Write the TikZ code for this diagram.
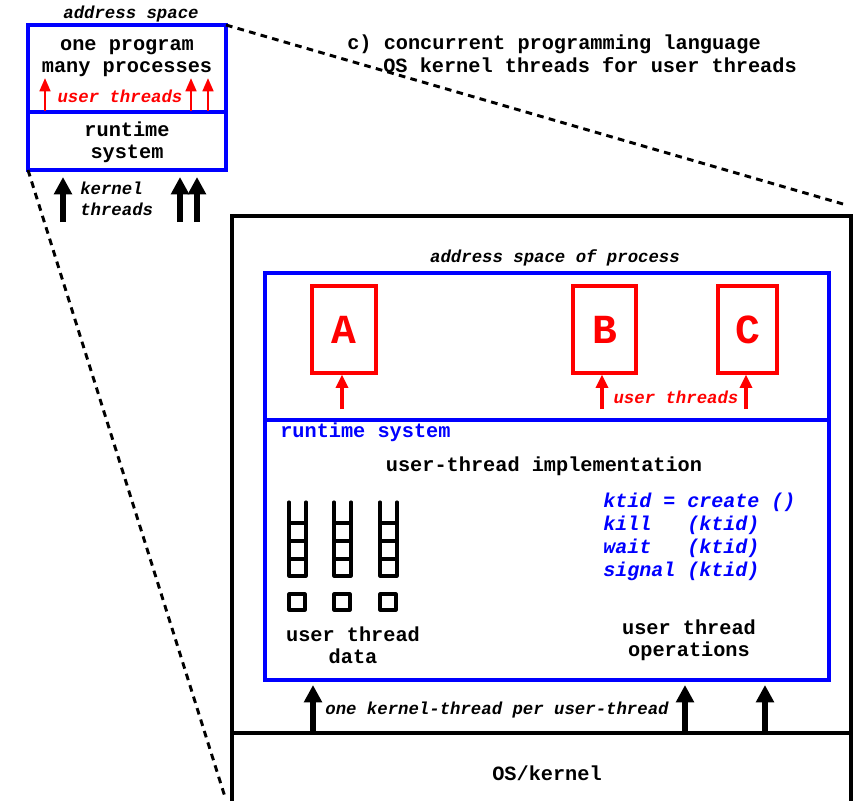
\documentclass[tikz,border=0pt]{standalone}
\usepackage{fontspec}
\setmainfont{Liberation Mono}
\usetikzlibrary{arrows.meta}
\begin{document}
\begin{tikzpicture}[x=0.75pt,y=-0.75pt,
  bigtxt/.style={font=\fontsize{15.2}{16.5}\selectfont\bfseries, inner sep=0pt},
  smalltxt/.style={font=\fontsize{13}{15.75}\selectfont\bfseries\itshape, inner sep=0pt},
  opstxt/.style={font=\fontsize{15}{17.25}\selectfont\bfseries\itshape, inner sep=0pt, text=blue, align=left},
  bluebox/.style={draw=blue, line width=2.5pt},
  blackbox/.style={draw=black, line width=2.4pt},
  redbox/.style={draw=red, line width=2.3pt, text=red, inner sep=0pt,
     font=\fontsize{31}{31}\selectfont\bfseries},
  redarrow/.style={red, line width=2.4pt, -{Triangle[width=9pt,length=10pt]}},
  redarrowsm/.style={red, line width=2pt, -{Triangle[width=8pt,length=10pt]}},
  karrow/.style={black, line width=4pt, -{Triangle[width=13pt,length=13pt]}},
  ladder/.style={line width=2.3pt, line join=round, line cap=round},
  zoomline/.style={line width=2.2pt, dash pattern=on 5pt off 4pt}
]
\useasboundingbox (0,0) rectangle (856,800);

% ---------- small overview box ----------
\node[smalltxt] (asp) at (131,14) {address space};
\draw[bluebox] (28,25) rectangle (226,170);
\draw[bluebox] (28,112) -- (226,112);
\coordinate (sTR) at (226,25);
\coordinate (sBL) at (28,170);
\node[bigtxt, align=center] (prog) at (127,58) {one program\\many processes};
\node[smalltxt, text=red] (sut) at (120,96) {user threads};
\node[bigtxt, align=center] (rts) at (127,142) {runtime\\system};
\coordinate (su1) at (45,111); \coordinate (su1e) at (45,78);
\coordinate (su2) at (191,111); \coordinate (su2e) at (191,78);
\coordinate (su3) at (208,111); \coordinate (su3e) at (208,78);
\draw[redarrowsm] (su1) -- (su1e);
\draw[redarrowsm] (su2) -- (su2e);
\draw[redarrowsm] (su3) -- (su3e);
\coordinate (sk1) at (63,222); \coordinate (sk1e) at (63,177);
\coordinate (sk2) at (180,222); \coordinate (sk2e) at (180,177);
\coordinate (sk3) at (197,222); \coordinate (sk3e) at (197,177);
\draw[karrow] (sk1) -- (sk1e);
\draw[karrow] (sk2) -- (sk2e);
\draw[karrow] (sk3) -- (sk3e);
\node[smalltxt, align=left, anchor=west] (kt) at (80,199) {kernel\\threads};

% ---------- title ----------
\node[bigtxt, anchor=base west] (t1) at (347,49) {c) concurrent programming language};
\node[bigtxt, anchor=base west] (t2) at (383,72) {OS kernel threads for user threads};

% ---------- big box ----------
\coordinate (bTL) at (232,216);
\coordinate (bTR) at (851,216);
\draw[blackbox] (232,806) -- (bTL) -- (bTR) -- (851,806);
\draw[blackbox] (232,733) -- (851,733);
\node[bigtxt] (os) at (547,773) {OS/kernel};

% zoom lines
\coordinate (zTR) at (843,204);
\coordinate (zBL) at (225,797);
\draw[zoomline] (sTR) -- (zTR);
\draw[zoomline] (sBL) -- (zBL);

% address space of process
\node[smalltxt] (asp2) at (555,258) {address space of process};
\draw[bluebox] (265,273) rectangle (829,680);
\draw[bluebox] (265,420) -- (829,420);

% user threads A B C
\node[redbox, minimum width=48pt, minimum height=65.25pt] (A) at (344,329.5) {A};
\node[redbox, minimum width=47.25pt, minimum height=65.25pt] (B) at (604.5,329.5) {B};
\node[redbox, minimum width=44.25pt, minimum height=65.25pt] (C) at (747.5,329.5) {C};
\coordinate (ua) at (342,409); \coordinate (ub) at (602,409); \coordinate (uc) at (746,409);
\draw[redarrow] (ua) -- (ua |- A.south);
\draw[redarrow] (ub) -- (ub |- B.south);
\draw[redarrow] (uc) -- (uc |- C.south);
\node[smalltxt, text=red] (but) at (676,397) {user threads};

% runtime system
\node[bigtxt, text=blue, anchor=west] (rt) at (280,432) {runtime system};
\node[bigtxt] (uti) at (544,466) {user-thread implementation};

% ladders
\foreach \x/\n in {289/1,334/2,380/3}{
  \draw[ladder] (\x,502) -- (\x,576) -- (\x+17,576) -- (\x+17,502);
  \foreach \y in {523,541,559}{ \draw[ladder] (\x,\y) -- (\x+17,\y); }
  \draw[ladder] (\x,594) rectangle (\x+16,610);
}
\node[bigtxt, align=center] (utd) at (353,645) {user thread\\data};

% operations
\node[opstxt, anchor=north west] (ops) at (603,493) {ktid = create ()\\kill\ \ \ (ktid)\\wait\ \ \ (ktid)\\signal (ktid)};
\node[bigtxt, align=center] (uto) at (689,640) {user thread\\operations};

% kernel threads
\coordinate (k1) at (313,733); \coordinate (k2) at (685,733); \coordinate (k3) at (765,733);
\draw[karrow] (k1) -- (313,685);
\draw[karrow] (k2) -- (685,685);
\draw[karrow] (k3) -- (765,685);
\node[smalltxt] (okt) at (497,710) {one kernel-thread per user-thread};
\end{tikzpicture}
\end{document}
